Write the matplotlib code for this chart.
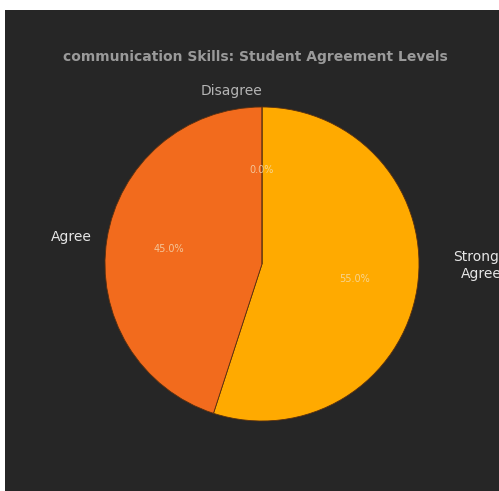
import matplotlib.pyplot as plt
from matplotlib.patches import Rectangle

LABELS = ['Strongly\nAgree', 'Agree', 'Disagree']
SHARES = [55.0, 45.0, 0.0]
COLORS = ['#FFAA00', '#F26B1D', '#D9D9D9']
TITLE = 'communication Skills: Student Agreement Levels'

BG = '#262626'

if __name__ == '__main__':
    W, H = 499, 491
    fig = plt.figure(figsize=(W / 100, H / 100), dpi=100, facecolor='white')

    # dark panel, inset a few pixels from the top-left corner
    fig.patches.append(Rectangle((5 / W, 0), 1 - 5 / W, 1 - 10 / H,
                                 transform=fig.transFigure, facecolor=BG,
                                 edgecolor='none', zorder=-1))

    cx, cy, r = 262, H - 264, 157
    ax = fig.add_axes([(cx - r) / W, (cy - r) / H, 2 * r / W, 2 * r / H])
    ax.set_facecolor(BG)
    ax.patch.set_alpha(0)

    wedges, texts, autotexts = ax.pie(
        SHARES, labels=LABELS, colors=COLORS, startangle=90, counterclock=False,
        autopct='%1.1f%%', pctdistance=0.6, labeldistance=1.1,
        wedgeprops=dict(edgecolor='#5a3010', linewidth=0.6),
        textprops=dict(color='#e6e6e6', fontsize=10))
    ax.set_xlim(-1, 1)
    ax.set_ylim(-1, 1)
    ax.set_aspect('auto')
    ax.axis('off')

    for t in autotexts:
        t.set_color('#f4e2c0')
        t.set_alpha(0.75)
        t.set_fontsize(7)

    # long label sits further out and is centred line by line
    texts[0].set_position((1.4, -0.01))
    texts[0].set_horizontalalignment('center')
    texts[0].set_multialignment('center')
    texts[0].set_verticalalignment('center')
    texts[2].set_horizontalalignment('right')
    texts[2].set_color('#b5b5b5')

    fig.text(255 / W, 1 - 57 / H, TITLE, ha='center', va='center',
             color='#9a9a9a', fontsize=10, fontweight='bold')

    fig.savefig('out.png', dpi=100, facecolor=fig.get_facecolor())
